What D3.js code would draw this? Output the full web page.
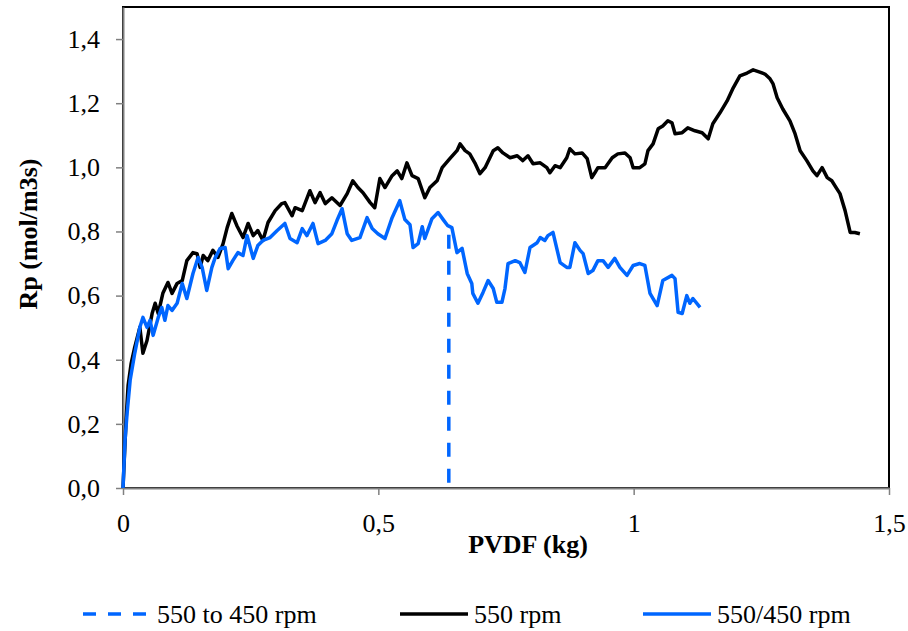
<!DOCTYPE html>
<html>
<head>
<meta charset="utf-8">
<script src="https://cdn.jsdelivr.net/npm/d3@7"></script>
<style>
  body { margin: 0; background: #fff; }
  svg { display: block; font-family: "Liberation Serif", "Times New Roman", serif; }
</style>
</head>
<body>
<svg id="chart" width="908" height="631"></svg>
<script>
// series: [PVDF kg, Rp]
var rpm550 = [
  [0,0],[0.006,0.212],[0.010,0.320],[0.016,0.389],[0.023,0.439],[0.033,0.501],[0.039,0.420],
  [0.047,0.460],[0.057,0.544],[0.063,0.576],[0.069,0.544],[0.078,0.607],[0.088,0.641],[0.096,0.607],
  [0.106,0.638],[0.116,0.647],[0.125,0.709],[0.137,0.734],[0.145,0.731],[0.151,0.688],[0.157,0.725],
  [0.166,0.709],[0.176,0.741],[0.186,0.719],[0.196,0.762],[0.204,0.812],[0.213,0.856],[0.223,0.818],
  [0.235,0.781],[0.245,0.825],[0.255,0.787],[0.264,0.803],[0.274,0.772],[0.284,0.828],[0.298,0.865],
  [0.311,0.887],[0.317,0.890],[0.331,0.849],[0.337,0.874],[0.351,0.865],[0.366,0.927],[0.376,0.890],
  [0.386,0.921],[0.396,0.887],[0.409,0.905],[0.425,0.881],[0.439,0.918],[0.450,0.958],[0.460,0.937],
  [0.470,0.921],[0.484,0.890],[0.493,0.874],[0.503,0.965],[0.513,0.937],[0.527,0.974],[0.537,0.989],
  [0.546,0.965],[0.556,1.014],[0.566,0.974],[0.578,0.965],[0.591,0.905],[0.601,0.937],[0.615,0.958],
  [0.625,0.999],[0.640,1.027],[0.654,1.052],[0.660,1.073],[0.670,1.052],[0.679,1.042],[0.689,1.014],
  [0.699,0.980],[0.709,0.999],[0.725,1.052],[0.734,1.061],[0.744,1.045],[0.758,1.030],[0.772,1.036],
  [0.783,1.021],[0.793,1.036],[0.803,1.011],[0.817,1.014],[0.830,0.999],[0.836,0.983],[0.846,1.005],
  [0.856,0.999],[0.869,1.030],[0.875,1.058],[0.885,1.042],[0.899,1.045],[0.909,1.027],[0.918,0.968],
  [0.924,0.983],[0.930,0.999],[0.944,0.999],[0.958,1.030],[0.969,1.042],[0.983,1.045],[0.993,1.030],
  [0.999,0.999],[1.012,0.999],[1.022,1.011],[1.028,1.052],[1.038,1.073],[1.048,1.120],[1.057,1.129],
  [1.067,1.145],[1.075,1.139],[1.081,1.105],[1.095,1.108],[1.106,1.123],[1.120,1.114],[1.134,1.108],
  [1.146,1.089],[1.155,1.136],[1.169,1.170],[1.183,1.207],[1.195,1.248],[1.208,1.285],[1.222,1.294],
  [1.234,1.304],[1.247,1.297],[1.257,1.291],[1.267,1.276],[1.273,1.260],[1.281,1.217],[1.292,1.182],
  [1.306,1.145],[1.316,1.105],[1.326,1.052],[1.339,1.021],[1.351,0.989],[1.359,0.974],[1.369,0.999],
  [1.379,0.968],[1.388,0.958],[1.398,0.933],[1.404,0.918],[1.414,0.865],[1.424,0.797],[1.433,0.797],
  [1.443,0.793]
];

var rpm550450 = [
  [0,0],[0.004,0.149],[0.008,0.233],[0.014,0.336],[0.023,0.420],[0.033,0.501],[0.039,0.532],
  [0.047,0.501],[0.053,0.523],[0.059,0.476],[0.069,0.532],[0.076,0.563],[0.082,0.523],[0.088,0.569],
  [0.096,0.554],[0.106,0.576],[0.116,0.638],[0.125,0.591],[0.137,0.669],[0.147,0.719],[0.155,0.688],
  [0.164,0.616],[0.174,0.688],[0.180,0.716],[0.190,0.747],[0.200,0.750],[0.206,0.684],[0.215,0.709],
  [0.225,0.734],[0.235,0.725],[0.243,0.787],[0.255,0.716],[0.264,0.756],[0.274,0.772],[0.288,0.781],
  [0.302,0.803],[0.317,0.825],[0.327,0.778],[0.341,0.765],[0.351,0.809],[0.360,0.787],[0.372,0.825],
  [0.382,0.762],[0.396,0.772],[0.409,0.793],[0.419,0.834],[0.429,0.871],[0.439,0.793],[0.448,0.772],
  [0.464,0.781],[0.478,0.843],[0.488,0.809],[0.499,0.793],[0.513,0.778],[0.527,0.843],[0.542,0.896],
  [0.552,0.837],[0.562,0.821],[0.568,0.750],[0.578,0.762],[0.586,0.815],[0.591,0.778],[0.605,0.840],
  [0.617,0.859],[0.627,0.837],[0.636,0.818],[0.644,0.812],[0.654,0.734],[0.664,0.747],[0.674,0.669],
  [0.683,0.638],[0.685,0.607],[0.695,0.576],[0.705,0.610],[0.715,0.647],[0.725,0.622],[0.732,0.579],
  [0.742,0.579],[0.748,0.622],[0.754,0.700],[0.768,0.709],[0.777,0.703],[0.787,0.672],[0.797,0.750],
  [0.811,0.765],[0.817,0.781],[0.826,0.772],[0.832,0.787],[0.842,0.797],[0.856,0.703],[0.869,0.688],
  [0.875,0.688],[0.885,0.765],[0.895,0.741],[0.901,0.731],[0.911,0.669],[0.920,0.678],[0.930,0.709],
  [0.940,0.709],[0.950,0.688],[0.963,0.716],[0.973,0.688],[0.987,0.663],[0.999,0.694],[1.012,0.700],
  [1.022,0.694],[1.032,0.607],[1.046,0.569],[1.057,0.647],[1.075,0.663],[1.081,0.653],[1.087,0.548],
  [1.095,0.544],[1.104,0.600],[1.110,0.576],[1.116,0.591],[1.130,0.563]
];

// speed change marker
var rpmChange = [[0.638,0.79],[0.638,0]];

var xTicks = [0, 0.5, 1, 1.5];
var yTicks = [0, 0.2, 0.4, 0.6, 0.8, 1.0, 1.2, 1.4];

var legendItems = [
  {label: "550 to 450 rpm", color: "#0066ff", dash: "13,12"},
  {label: "550 rpm", color: "#000000", dash: null},
  {label: "550/450 rpm", color: "#0066ff", dash: null}
];

var chart = {};
chart.margins = {top: 7, left: 123, right: 19, bottom: 143};
chart.svg = d3.select("#chart");
chart.width = 908 - chart.margins.left - chart.margins.right;
chart.height = 631 - chart.margins.top - chart.margins.bottom;

chart.x = d3.scaleLinear().domain([0, 1.5]).range([chart.margins.left, chart.margins.left + chart.width]);
chart.y = d3.scaleLinear().domain([0, 1.5]).range([chart.margins.top + chart.height, chart.margins.top]);

// plot area frame
chart.svg.append("rect")
    .attr("x", chart.x(0))
    .attr("y", chart.y(1.5))
    .attr("width", chart.x(1.5) - chart.x(0))
    .attr("height", chart.y(0) - chart.y(1.5))
    .attr("fill", "none")
    .attr("stroke", "#000")
    .attr("stroke-width", 2);

var comma = function(d) { return String(d).replace(".", ","); };

chart.xAxis = chart.svg.append("g")
    .attr("transform", "translate(0," + chart.y(0) + ")")
    .call(d3.axisBottom(chart.x).tickValues(xTicks).tickSize(7).tickPadding(19).tickSizeOuter(0).tickFormat(comma));

chart.yAxis = chart.svg.append("g")
    .attr("transform", "translate(" + chart.x(0) + ",0)")
    .call(d3.axisLeft(chart.y).tickValues(yTicks).tickSize(7).tickPadding(16).tickSizeOuter(0)
        .tickFormat(function(d) { return d.toFixed(1).replace(".", ","); }));

[chart.xAxis, chart.yAxis].forEach(function(ax) {
    ax.attr("font-family", "Liberation Serif").attr("font-size", 26);
    ax.select(".domain").attr("stroke", "#808080").attr("stroke-width", 2);
    ax.selectAll(".tick line").attr("stroke", "#808080").attr("stroke-width", 1.5);
    ax.selectAll(".tick text").attr("fill", "#000");
});

chart.line = d3.line()
    .x(function(d) { return chart.x(d[0]); })
    .y(function(d) { return chart.y(d[1]); });

chart.svg.append("path")
    .datum(rpm550)
    .attr("d", chart.line)
    .attr("fill", "none")
    .attr("stroke", "#000")
    .attr("stroke-width", 3.5)
    .attr("stroke-linejoin", "round");

chart.svg.append("path")
    .datum(rpm550450)
    .attr("d", chart.line)
    .attr("fill", "none")
    .attr("stroke", "#0066ff")
    .attr("stroke-width", 3.5)
    .attr("stroke-linejoin", "round");

chart.svg.append("path")
    .datum(rpmChange)
    .attr("d", chart.line)
    .attr("fill", "none")
    .attr("stroke", "#0066ff")
    .attr("stroke-width", 3.5)
    .attr("stroke-dasharray", "14,12");

// axis titles
chart.svg.append("text")
    .attr("x", 528)
    .attr("y", 553)
    .attr("text-anchor", "middle")
    .attr("font-weight", "bold")
    .attr("font-size", "26px")
    .text("PVDF (kg)");

chart.svg.append("text")
    .attr("transform", "translate(37,234) rotate(-90)")
    .attr("text-anchor", "middle")
    .attr("font-weight", "bold")
    .attr("font-size", "26px")
    .text("Rp (mol/m3s)");

// legend
var legendX = [83, 400, 643];
var legend = chart.svg.selectAll(".legend")
    .data(legendItems)
    .enter().append("g")
    .attr("class", "legend")
    .attr("transform", function(d, i) { return "translate(" + legendX[i] + ",614)"; });

legend.append("line")
    .attr("x1", 0).attr("x2", 68)
    .attr("stroke", function(d) { return d.color; })
    .attr("stroke-width", 3.5)
    .attr("stroke-dasharray", function(d) { return d.dash; });

legend.append("text")
    .attr("x", 74)
    .attr("y", 9)
    .attr("font-size", "26px")
    .text(function(d) { return d.label; });
</script>
</body>
</html>
